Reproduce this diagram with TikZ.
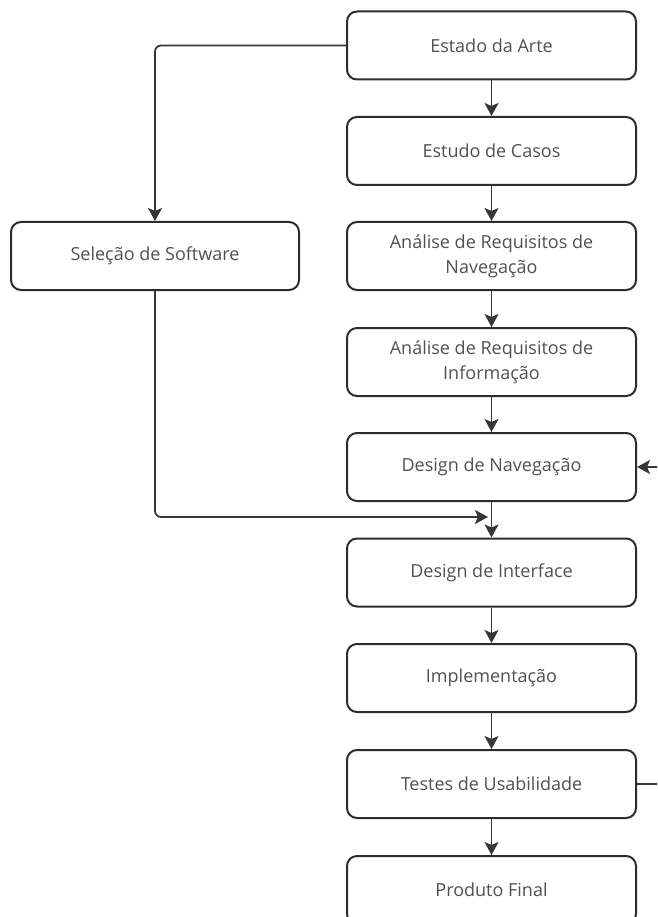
\documentclass[tikz,border=0pt]{standalone}
\usepackage{fontspec}
\setmainfont{Open Sans}
\usetikzlibrary{arrows.meta}
\definecolor{box_line}{RGB}{45, 45, 45}
\definecolor{box_text}{RGB}{80, 80, 80}
\definecolor{flow_line}{RGB}{55, 55, 55}

\begin{document}
\begin{tikzpicture}[x=1pt, y=-1pt,
  stage/.style={draw=box_line, line width=2pt, rounded corners=10pt,
    minimum width=289pt, minimum height=68pt, text=box_text, align=center,
    font=\fontsize{18}{25}\selectfont},
  flow/.style={draw=flow_line, line width=1.8pt, rounded corners=6pt,
    -{Stealth[length=13pt, width=14pt, inset=3pt]}}]
\useasboundingbox (0,0) rectangle (657,917);
\clip (0,0) rectangle (657,917);

\node[stage] (arte) at (491.5, 45.5) {Estado da Arte};
\node[stage] (casos) at (491.5, 151) {Estudo de Casos};
\node[stage] (navreq) at (491.5, 256) {Análise de Requisitos de\\Navegação};
\node[stage] (inforeq) at (491.5, 362) {Análise de Requisitos de\\Informação};
\node[stage] (navdesign) at (491.5, 467) {Design de Navegação};
\node[stage] (interface) at (491.5, 572.5) {Design de Interface};
\node[stage] (impl) at (491.5, 678) {Implementação};
\node[stage] (testes) at (491.5, 784) {Testes de Usabilidade};
\node[stage] (produto) at (491.5, 890) {Produto Final};
\node[stage, minimum width=288pt] (software) at (155, 256) {Seleção de Software};

\coordinate (junction) at (488, 517);
\coordinate (loopin) at (660, 467);
\coordinate (loopout) at (660, 784);

\foreach \a/\b in {arte/casos, casos/navreq, navreq/inforeq, inforeq/navdesign,
    navdesign/interface, interface/impl, impl/testes, testes/produto}
  \draw[flow] (\a) -- (\b);

\draw[flow] (arte.west) -| (software.north);
\draw[flow] (software.south) |- (junction);
\draw[flow] (loopin) -- (navdesign.east);
\draw[draw=flow_line, line width=1.4pt] (testes.east) -- (loopout);
\end{tikzpicture}
\end{document}
